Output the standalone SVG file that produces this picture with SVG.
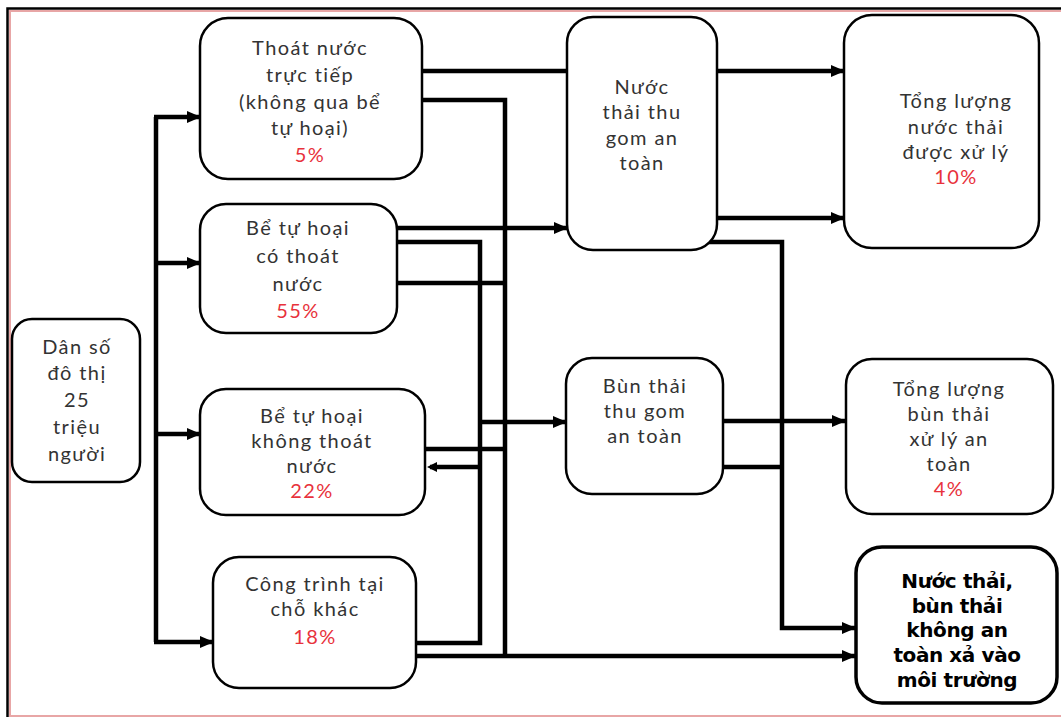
<svg xmlns="http://www.w3.org/2000/svg" width="1061" height="719" viewBox="0 0 1061 719">
<style>
.box{fill:#fff;stroke:#000;stroke-width:2.5}
.bold{fill:#fff;stroke:#000;stroke-width:3.5}
.t{font-family:Lato,"Open Sans","Liberation Sans",sans-serif;font-size:20px;letter-spacing:1.4px;fill:#333;text-anchor:middle}
.p{fill:#e8323c}
.b{font-family:"DejaVu Sans","Liberation Sans",sans-serif;font-size:20px;font-weight:bold;fill:#000;text-anchor:middle;letter-spacing:-0.4px}
.c{fill:none;stroke:#000;stroke-width:4.5}
.a{marker-end:url(#ah)}
</style>
<defs>
<marker id="ah" markerUnits="userSpaceOnUse" markerWidth="14" markerHeight="12" refX="13" refY="6" orient="auto">
<path d="M0,0 L14,6 L0,12 z" fill="#000"/>
</marker>
</defs>
<rect x="0" y="0" width="1061" height="719" fill="#fff"/>
<path d="M1061,8.5 H7.5 V717" fill="none" stroke="#000" stroke-width="2.5"/>
<path d="M1061,11 H10 V716 H1061" fill="none" stroke="#e8a6a6" stroke-width="2"/>
<g id="connectors">
<path class="c" d="M156,117 V642"/>
<path class="c a" d="M154,117 H200"/>
<path class="c a" d="M154,263 H200"/>
<path class="c a" d="M154,434 H200"/>
<path class="c a" d="M154,642 H213"/>
<path class="c" d="M420,71 H569"/>
<path class="c" d="M420,100 H505 V656"/>
<path class="c a" d="M396,228 H567"/>
<path class="c" d="M394,242 H480 V643 H414"/>
<path class="c" d="M396,283 H505"/>
<path class="c a" d="M480,422 H566"/>
<path class="c" d="M423,449 H505"/>
<path class="c" d="M480,467 H430"/>
<path d="M437,462 L427,467 L437,472 z" fill="#000"/>
<path class="c a" d="M414,656 H855"/>
<path class="c a" d="M715,71 H844"/>
<path class="c a" d="M715,218 H844"/>
<path class="c a" d="M703,242 H782 V628 H855"/>
<path class="c a" d="M721,421 H845"/>
<path class="c" d="M721,467 H782"/>
</g>
<g id="dan-so">
<rect class="box" x="12" y="319" width="128" height="163" rx="20"/>
<text class="t" x="77" y="354">Dân số</text>
<text class="t" x="77" y="380">đô thị</text>
<text class="t" x="77" y="407">25</text>
<text class="t" x="77" y="434">triệu</text>
<text class="t" x="77" y="461">người</text>
</g>
<g id="thoat-nuoc-truc-tiep">
<rect class="box" x="200" y="18" width="222" height="161" rx="28"/>
<text class="t" x="310" y="55">Thoát nước</text>
<text class="t" x="310" y="82">trực tiếp</text>
<text class="t" x="310" y="109">(không qua bể</text>
<text class="t" x="310" y="135">tự hoại)</text>
<text class="t p" x="310" y="162">5%</text>
</g>
<g id="be-tu-hoai-co-thoat-nuoc">
<rect class="box" x="200" y="204" width="197" height="129" rx="26"/>
<text class="t" x="298" y="235">Bể tự hoại</text>
<text class="t" x="298" y="263">có thoát</text>
<text class="t" x="298" y="291">nước</text>
<text class="t p" x="298" y="318">55%</text>
</g>
<g id="be-tu-hoai-khong-thoat-nuoc">
<rect class="box" x="200" y="389" width="225" height="126" rx="26"/>
<text class="t" x="312" y="423">Bể tự hoại</text>
<text class="t" x="312" y="448">không thoát</text>
<text class="t" x="312" y="473">nước</text>
<text class="t p" x="312" y="498">22%</text>
</g>
<g id="cong-trinh-tai-cho-khac">
<rect class="box" x="213" y="557" width="203" height="131" rx="26"/>
<text class="t" x="315" y="591">Công trình tại</text>
<text class="t" x="315" y="616">chỗ khác</text>
<text class="t p" x="315" y="644">18%</text>
</g>
<g id="nuoc-thai-thu-gom">
<rect class="box" x="567" y="17" width="150" height="233" rx="26"/>
<text class="t" x="642" y="94">Nước</text>
<text class="t" x="642" y="119">thải thu</text>
<text class="t" x="642" y="145">gom an</text>
<text class="t" x="642" y="170">toàn</text>
</g>
<g id="tong-nuoc-thai-xu-ly">
<rect class="box" x="844" y="15" width="195" height="233" rx="28"/>
<text class="t" x="956" y="108">Tổng lượng</text>
<text class="t" x="956" y="134">nước thải</text>
<text class="t" x="956" y="159">được xử lý</text>
<text class="t p" x="956" y="184">10%</text>
</g>
<g id="bun-thai-thu-gom">
<rect class="box" x="566" y="358" width="157" height="136" rx="26"/>
<text class="t" x="645" y="393">Bùn thải</text>
<text class="t" x="645" y="418">thu gom</text>
<text class="t" x="645" y="443">an toàn</text>
</g>
<g id="tong-bun-thai-xu-ly">
<rect class="box" x="846" y="359" width="207" height="155" rx="26"/>
<text class="t" x="949" y="396">Tổng lượng</text>
<text class="t" x="949" y="421">bùn thải</text>
<text class="t" x="949" y="446">xử lý an</text>
<text class="t" x="949" y="471">toàn</text>
<text class="t p" x="949" y="496">4%</text>
</g>
<g id="khong-an-toan">
<rect class="bold" x="856" y="547" width="201" height="156" rx="26"/>
<text class="b" x="957" y="588">Nước thải,</text>
<text class="b" x="957" y="613">bùn thải</text>
<text class="b" x="957" y="637">không an</text>
<text class="b" x="957" y="662">toàn xả  vào</text>
<text class="b" x="957" y="687">môi trường</text>
</g>
</svg>
